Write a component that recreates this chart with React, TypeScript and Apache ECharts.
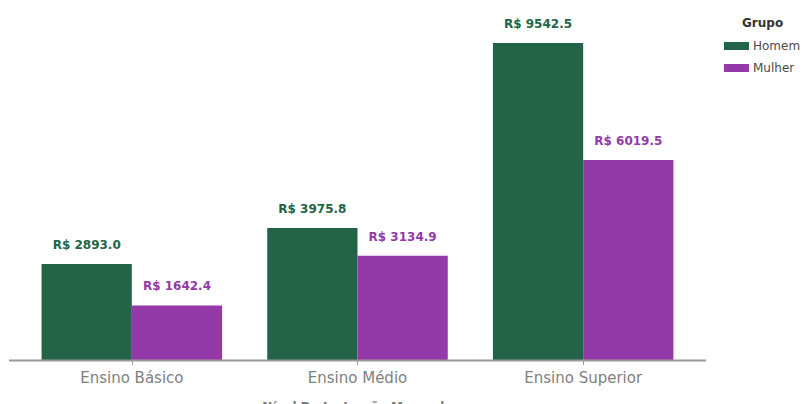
import React, { useEffect, useRef } from "react";
import * as echarts from "echarts";

const categories = ["Ensino Básico", "Ensino Médio", "Ensino Superior"];
const homem = [2893.0, 3975.8, 9542.5];
const mulher = [1642.4, 3134.9, 6019.5];
const seriesNames = ["Homem", "Mulher"];
const colors = ["#236448", "#943aa8"];

export default function App() {
  const ref = useRef<HTMLDivElement>(null);
  useEffect(() => {
    if (!ref.current) return;
    const chart = echarts.init(ref.current, null, { renderer: "svg" });
    const fmt = (p: any) => "R$ " + Number(p.value).toFixed(1);
    const font = "DejaVu Sans";
    chart.setOption({
      animation: false,
      backgroundColor: "#ffffff",
      title: {
        text: "Grupo",
        left: 742,
        top: 17,
        padding: 0,
        textStyle: { fontFamily: font, fontSize: 12, fontWeight: "bold", color: "#333333" },
      },
      legend: {
        orient: "vertical",
        left: 724,
        top: 40,
        padding: 0,
        itemWidth: 25,
        itemHeight: 8,
        itemGap: 10,
        icon: "rect",
        data: seriesNames,
        textStyle: { fontFamily: font, fontSize: 12, color: "#4a4a4a", padding: [0, 0, 0, -1] },
      },
      graphic: [
        {
          type: "line",
          shape: { x1: 9, y1: 360.5, x2: 706, y2: 360.5 },
          style: { stroke: "#9a9a9a", lineWidth: 2 },
          z: 10,
        },
      ],
      grid: { left: 19, right: 111, top: 43, bottom: 44, containLabel: false, outerBoundsMode: "none" },
      xAxis: {
        type: "category",
        data: categories,
        name: "Nível De Instrução Mapeado",
        nameLocation: "middle",
        nameGap: 41,
        nameTextStyle: { fontFamily: font, fontSize: 12, fontWeight: "bold", color: "#777777" },
        axisLine: { show: false },
        axisTick: { show: true, alignWithLabel: true, length: 5, lineStyle: { color: "#999999" } },
        axisLabel: { fontFamily: font, fontSize: 15, color: "#808080", margin: 10 },
      },
      yAxis: {
        type: "value",
        min: 0,
        max: 9542.5,
        show: false,
      },
      series: [
        {
          name: seriesNames[0],
          type: "bar",
          data: homem,
          barGap: "0%",
          barCategoryGap: "20%",
          itemStyle: { color: colors[0] },
          label: {
            show: true,
            position: "top",
            distance: 13,
            formatter: fmt,
            fontFamily: font,
            fontWeight: "bold",
            fontSize: 12,
            color: colors[0],
          },
        },
        {
          name: seriesNames[1],
          type: "bar",
          data: mulher,
          barGap: "0%",
          barCategoryGap: "20%",
          itemStyle: { color: colors[1] },
          label: {
            show: true,
            position: "top",
            distance: 13,
            formatter: fmt,
            fontFamily: font,
            fontWeight: "bold",
            fontSize: 12,
            color: colors[1],
          },
        },
      ],
    });
    return () => chart.dispose();
  }, []);
  return <div ref={ref} style={{ width: 807, height: 404, position: "absolute", left: 0, top: 0 }} />;
}
